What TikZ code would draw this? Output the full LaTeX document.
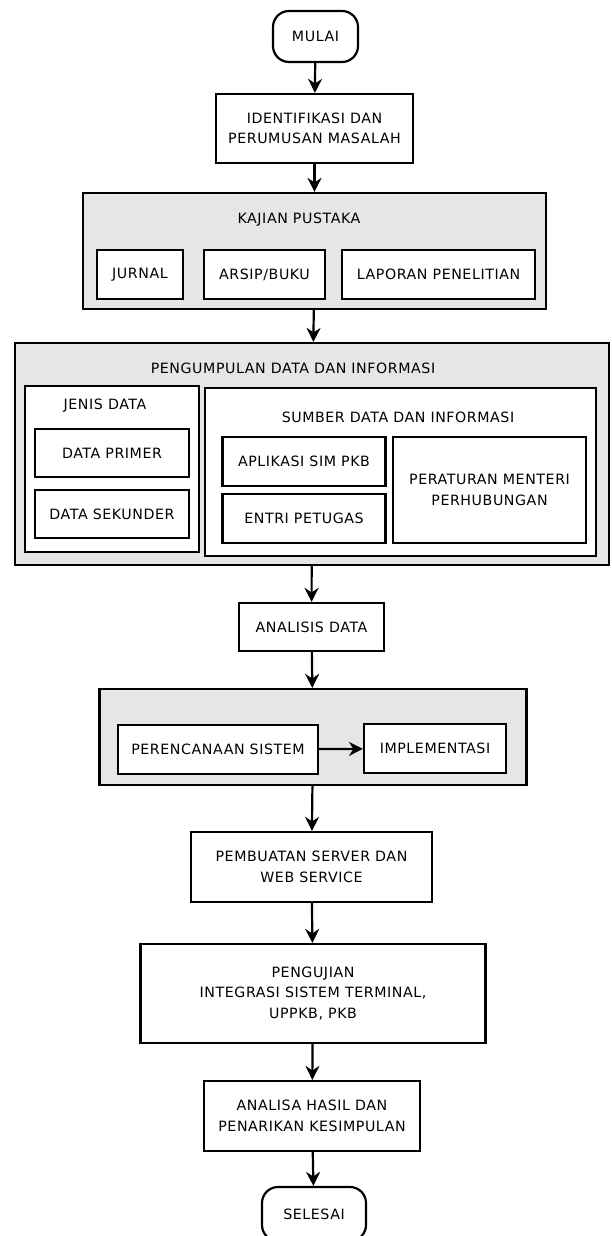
\documentclass[tikz,border=0pt]{standalone}
\usepackage{fontspec}
\setmainfont{DejaVu Sans}[LetterSpace=4]
\usetikzlibrary{arrows.meta}
\definecolor{abu}{HTML}{E6E6E6}
\begin{document}
\begin{tikzpicture}[x=1pt,y=-1pt,>={Stealth[length=14pt,width=14pt,inset=4.5pt]},
    teks/.style={align=center,inner sep=0pt,font=\fontsize{14.2}{20.5}\selectfont},
    kotak/.style={teks,draw,fill=white,line width=2.2pt},
    ujung/.style={kotak,rounded corners=16pt},
    grup/.style={draw,fill=abu,line width=2.2pt},
    panah/.style={->,line width=2.2pt}]
    \useasboundingbox (0,0) rectangle (612,1236);
    % mulai
    \node[ujung,minimum width=85pt,minimum height=51pt] (mulai) at (315.5,36.5) {MULAI};
    \node[kotak,minimum width=197pt,minimum height=69pt] (identifikasi)
        at (314.5,128.5) {IDENTIFIKASI DAN\\PERUMUSAN MASALAH};
    % kajian pustaka
    \node[grup,minimum width=463pt,minimum height=116pt] (kajian) at (314.5,251) {};
    \node[teks] (tkajian) at (299,220) {KAJIAN PUSTAKA};
    \node[kotak,minimum width=86pt,minimum height=49pt] (jurnal) at (140,274.5) {JURNAL};
    \node[kotak,minimum width=121pt,minimum height=49pt] (arsip) at (264.5,274.5) {ARSIP/BUKU};
    \node[kotak,minimum width=193pt,minimum height=49pt] (laporan) at (438.5,274.5) {LAPORAN PENELITIAN};
    % pengumpulan data
    \node[grup,minimum width=594pt,minimum height=222pt] (pengumpulan) at (312,454) {};
    \node[teks] (tpengumpulan) at (293,368) {PENGUMPULAN DATA DAN INFORMASI};
    \node[kotak,minimum width=174pt,minimum height=166pt] (jenis) at (112,469) {};
    \node[teks] (tjenis) at (105,406) {JENIS DATA};
    \node[kotak,minimum width=154pt,minimum height=48pt] (primer) at (112,453) {DATA PRIMER};
    \node[kotak,minimum width=154pt,minimum height=48pt] (sekunder) at (112,514) {DATA SEKUNDER};
    \node[kotak,minimum width=391pt,minimum height=168pt] (sumber) at (400.5,472) {};
    \node[teks] (tsumber) at (398,417) {SUMBER DATA DAN INFORMASI};
    \node[kotak,minimum width=163pt,minimum height=49pt] (aplikasi) at (304,461.5) {APLIKASI SIM PKB};
    \node[kotak,minimum width=163pt,minimum height=49pt] (entri) at (304,518.5) {ENTRI PETUGAS};
    \node[kotak,minimum width=193pt,minimum height=106pt] (peraturan)
        at (489.5,490) {PERATURAN MENTERI\\PERHUBUNGAN};
    % analisis
    \node[kotak,minimum width=145pt,minimum height=48pt] (analisis) at (311.5,627) {ANALISIS DATA};
    \node[grup,minimum width=427pt,minimum height=96pt] (perencanaan) at (313,737) {};
    \node[kotak,minimum width=200pt,minimum height=49pt] (sistem) at (218,749.5) {PERENCANAAN SISTEM};
    \node[kotak,minimum width=142pt,minimum height=49pt] (implementasi) at (435,748.5) {IMPLEMENTASI};
    \node[kotak,minimum width=241pt,minimum height=70pt] (pembuatan)
        at (311.5,867) {PEMBUATAN SERVER DAN\\WEB SERVICE};
    \node[kotak,minimum width=345pt,minimum height=99pt] (pengujian)
        at (313,993.5) {PENGUJIAN\\INTEGRASI SISTEM TERMINAL,\\UPPKB, PKB};
    \node[kotak,minimum width=216pt,minimum height=70pt] (analisa)
        at (312,1116) {ANALISA HASIL DAN\\PENARIKAN KESIMPULAN};
    \node[ujung,minimum width=104pt,minimum height=54pt] (selesai) at (314,1214) {SELESAI};
    % panah
    \draw[panah] (mulai) -- (identifikasi);
    \draw[panah] (identifikasi) -- (kajian);
    \draw[panah] (kajian) -- (pengumpulan);
    \draw[panah] (pengumpulan) -- (analisis);
    \draw[panah] (analisis) -- (perencanaan);
    \draw[panah] (sistem) -- (implementasi);
    \draw[panah] (perencanaan) -- (pembuatan);
    \draw[panah] (pembuatan) -- (pengujian);
    \draw[panah] (pengujian) -- (analisa);
    \draw[panah] (analisa) -- (selesai);
\end{tikzpicture}
\end{document}
